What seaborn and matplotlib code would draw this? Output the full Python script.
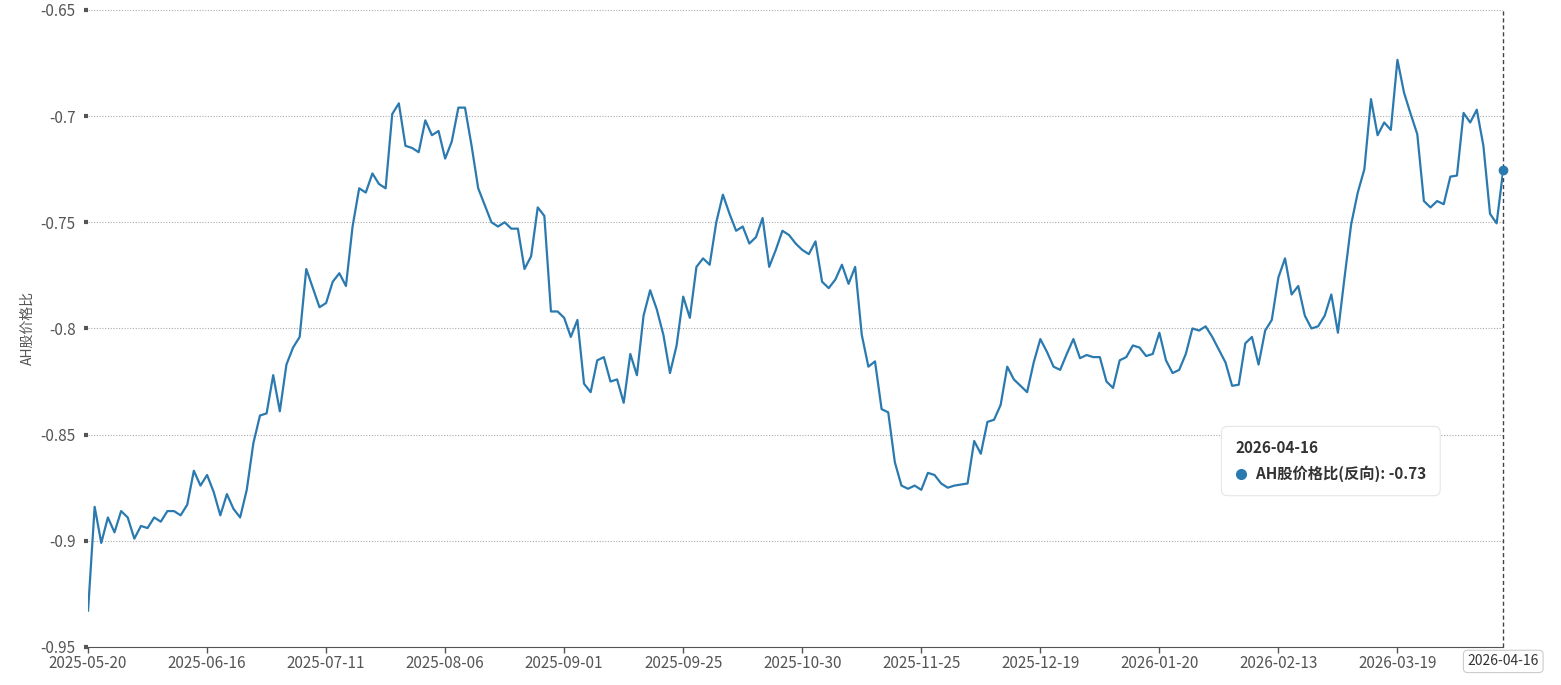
import numpy as np
import pandas as pd
import matplotlib
matplotlib.use("Agg")
import matplotlib.pyplot as plt
import seaborn as sns

sns.set_style("white")
plt.rcParams['font.family'] = ['Noto Sans CJK SC', 'DejaVu Sans']
plt.rcParams['axes.unicode_minus'] = False

# AH股价格比(反向), 按交易日
ratio = [
    -0.933, -0.884, -0.901, -0.889, -0.896, -0.886, -0.889, -0.899, -0.893, -0.894,
    -0.889, -0.891, -0.886, -0.886, -0.888, -0.883, -0.867, -0.874, -0.869, -0.877,
    -0.888, -0.878, -0.885, -0.889, -0.876, -0.854, -0.841, -0.840, -0.822, -0.839,
    -0.817, -0.809, -0.804, -0.772, -0.781, -0.790, -0.788, -0.778,
    -0.774, -0.780, -0.752, -0.734, -0.736, -0.727, -0.732, -0.734, -0.699, -0.694,
    -0.714, -0.715, -0.717, -0.702, -0.709, -0.707, -0.720, -0.712, -0.696, -0.696,
    -0.714, -0.734, -0.742, -0.750, -0.752, -0.750, -0.753, -0.753, -0.772, -0.766,
    -0.743, -0.747, -0.792, -0.792, -0.795, -0.804, -0.796,
    -0.826, -0.830, -0.815, -0.8135, -0.825, -0.824, -0.835, -0.812, -0.822, -0.794,
    -0.782, -0.791, -0.803, -0.821, -0.808, -0.785, -0.795, -0.771, -0.767, -0.770,
    -0.750, -0.737, -0.746, -0.754, -0.752, -0.760, -0.757, -0.748, -0.771, -0.763,
    -0.754, -0.756, -0.760, -0.763, -0.765, -0.759,
    -0.778, -0.781, -0.777, -0.770, -0.779, -0.771, -0.803, -0.818, -0.8155, -0.838,
    -0.8395, -0.863, -0.874, -0.8755, -0.874, -0.876, -0.868, -0.869, -0.873, -0.875,
    -0.874, -0.8735, -0.873, -0.853, -0.859, -0.844, -0.843, -0.836, -0.818, -0.824,
    -0.827, -0.830, -0.816, -0.805, -0.811, -0.818,
    -0.8195, -0.812, -0.805, -0.814, -0.8125, -0.8135, -0.8135, -0.825, -0.828, -0.815,
    -0.8135, -0.808, -0.809, -0.813, -0.812, -0.802, -0.815, -0.821, -0.8195, -0.812,
    -0.800, -0.801, -0.799, -0.804, -0.810, -0.816, -0.827, -0.8265, -0.807, -0.804,
    -0.817, -0.801, -0.796, -0.776, -0.767,
    -0.784, -0.780, -0.794, -0.800, -0.799, -0.794, -0.784, -0.802, -0.776, -0.751,
    -0.736, -0.725, -0.692, -0.709, -0.703, -0.7065, -0.6735, -0.689, -0.699, -0.7085,
    -0.740, -0.743, -0.740, -0.7415, -0.7285, -0.728, -0.6985, -0.703, -0.697, -0.714,
    -0.746, -0.7505, -0.7253,
]
tick_labels = ["2025-05-20", "2025-06-16", "2025-07-11", "2025-08-06", "2025-09-01",
               "2025-09-25", "2025-10-30", "2025-11-25", "2025-12-19", "2026-01-20",
               "2026-02-13", "2026-03-19"]
last_date = "2026-04-16"
y_ticks = [-0.95, -0.9, -0.85, -0.8, -0.75, -0.7, -0.65]
y_tick_labels = ["-0.95", "-0.9", "-0.85", "-0.8", "-0.75", "-0.7", "-0.65"]

df = pd.DataFrame({"idx": np.arange(len(ratio)), "ratio": ratio})
n = len(ratio)
color = "#2a7ab0"

fig = plt.figure(figsize=(15.61, 6.85), dpi=100)
ax = fig.add_axes([0.0564, 0.0555, 0.9066, 0.93])
sns.lineplot(data=df, x="idx", y="ratio", ax=ax, color=color, linewidth=1.6)
ax.plot(n - 1, ratio[-1], "o", color=color, markersize=6, clip_on=False, zorder=5)
ax.axvline(n - 1, color="#444444", linestyle=(0, (3, 2)), linewidth=1, clip_on=False)

ax.set_xlim(0, n - 1)
ax.set_ylim(-0.95, -0.65)
ax.set_yticks(y_ticks)
ax.set_yticklabels(y_tick_labels, fontsize=11, color="#555555")
ax.set_xticks(np.arange(0, 18 * len(tick_labels), 18))
ax.set_xticklabels(tick_labels, fontsize=11, color="#555555")
ax.tick_params(axis="y", left=True, length=3, width=3, color="#555555", pad=6)
ax.tick_params(axis="x", bottom=True, length=4, width=1, color="#555555", pad=2)
ax.grid(axis="y", linestyle=(0, (1, 1.5)), color="#aaaaaa", linewidth=0.8)
ax.set_xlabel("")
ax.set_ylabel("AH股价格比", fontsize=10, color="#555555")
for s in ["top", "right", "left"]:
    ax.spines[s].set_visible(False)
ax.spines["bottom"].set_color("#555555")

ax.text(n - 1, -0.9535, last_date, ha="center", va="top", fontsize=10, color="#333333",
        bbox=dict(boxstyle="round,pad=0.3", fc="white", ec="#cccccc", lw=0.8))

# tooltip
ax.text(0.8106, 0.292, f"{last_date}\n      AH股价格比(反向): {ratio[-1]:.2f}",
        transform=ax.transAxes, fontsize=11, fontweight="bold", color="#333333",
        va="center", ha="left", linespacing=1.7, zorder=8,
        bbox=dict(boxstyle="round,pad=0.9,rounding_size=0.4", fc="white", ec="#e6e6e6", lw=0.8))
ax.plot([0.8148], [0.272], "o", color=color, markersize=7, transform=ax.transAxes, zorder=10)

fig.savefig("out.png", dpi=100)
